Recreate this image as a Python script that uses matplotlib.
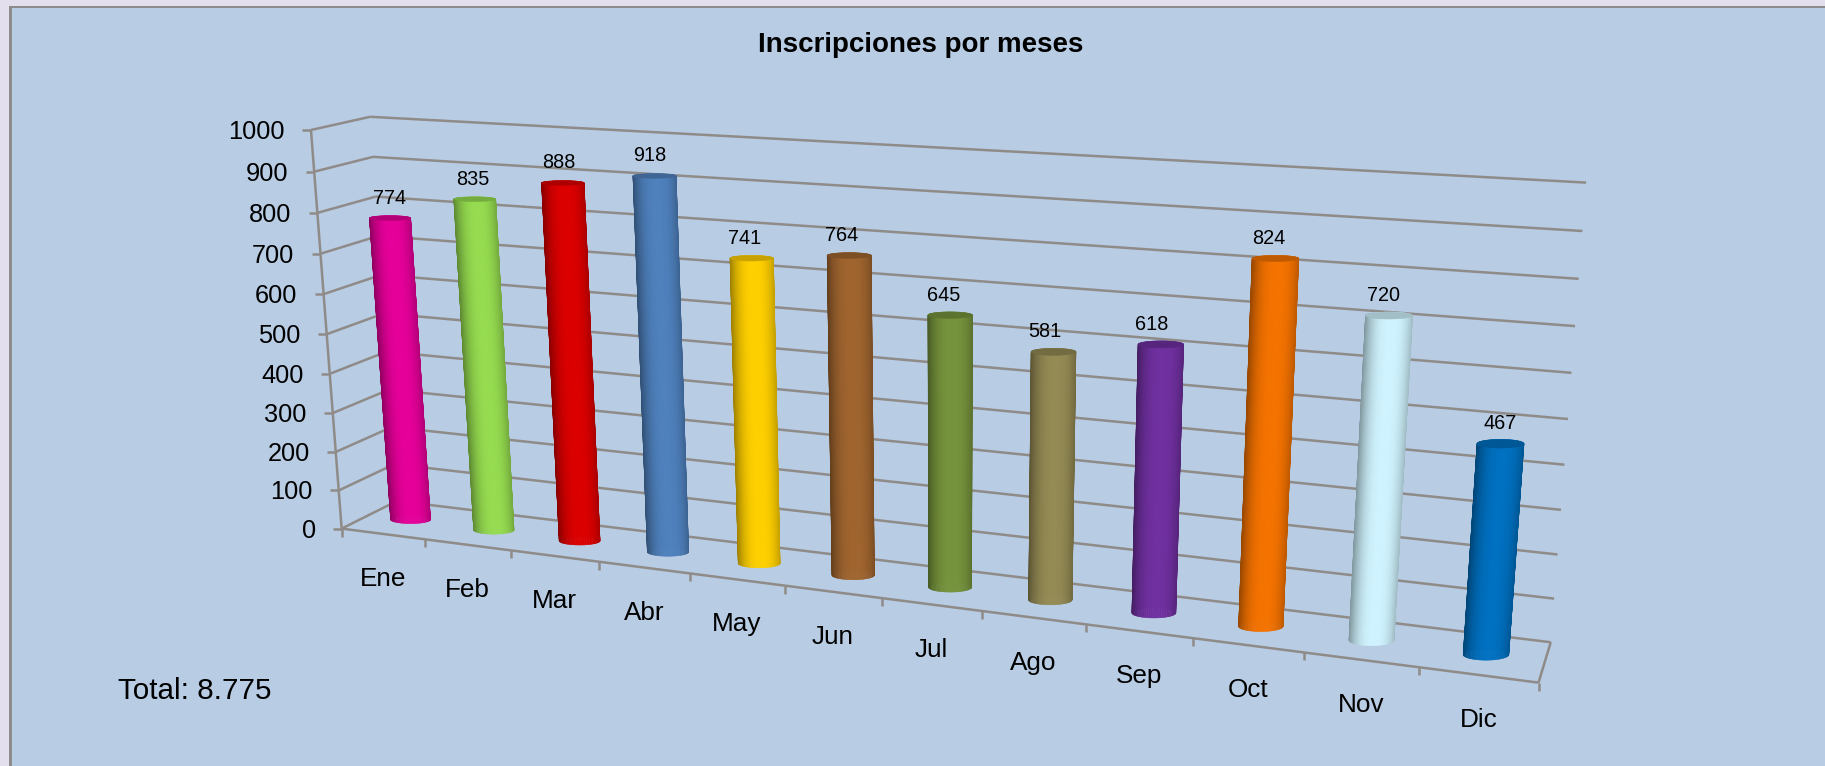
#---------------------------------------------------------------
#  Inscripciones por meses - cilindros 3D en perspectiva
#---------------------------------------------------------------
import numpy as np
import matplotlib
matplotlib.use("Agg")
import matplotlib.pyplot as plt
from matplotlib.colors import to_rgb
from matplotlib.patches import Rectangle

plt.rcParams['font.family'] = ['Liberation Sans', 'DejaVu Sans']

# datos
meses = ['Ene', 'Feb', 'Mar', 'Abr', 'May', 'Jun', 'Jul', 'Ago', 'Sep', 'Oct', 'Nov', 'Dic']
inscripciones = [774, 835, 888, 918, 741, 764, 645, 581, 618, 824, 720, 467]
colores = ['#E6009A', '#96DC50', '#DC0000', '#4F81BD', '#FFD000', '#A0652F',
           '#76933C', '#948A54', '#7030A0', '#F57300', '#D0F4FF', '#0070C0']
marcas_y = [0, 100, 200, 300, 400, 500, 600, 700, 800, 900, 1000]
titulo = 'Inscripciones por meses'
total = 'Total: 8.775'

GRIS = '#8f8b88'

# Excel no centra del todo las etiquetas sobre el cilindro (pixeles)
ajuste_etiquetas = [0, -2, -4, -5, -7, -8, -7, -9, -9, -7, -6, 0]

# calibracion de la camara: (mes, valor, fondo) -> pixel de la figura
puntos_3d = [(0, 0, 0), (0, 1000, 0), (0, 1000, 1), (0, 0, 1),
             (12, 1000, 1), (12, 0, 1), (12, 0, 0),
             (1, 0, 0), (2, 0, 0), (3, 0, 0), (10, 0, 0), (11, 0, 0),
             (12, 500, 1), (0, 500, 0)]
puntos_px = [(342, 528.3), (311.2, 130.7), (369.7, 118.3), (397, 500.3),
             (1586.4, 182.7), (1550.7, 641.7), (1537.9, 682.7),
             (425, 540), (510.7, 551.7), (599.3, 563.3), (1304.3, 653.3), (1419.4, 666.7),
             (1568.3, 418.5), (326.5, 330)]


def ajusta_camara(p3, p2):
    filas = []
    for (x, y, z), (u, v) in zip(p3, p2):
        X = [x, y / 1000.0, z, 1.0]
        u, v = u / 1000.0, v / 1000.0
        filas.append(X + [0, 0, 0, 0] + [-u * a for a in X])
        filas.append([0, 0, 0, 0] + X + [-v * a for a in X])
    _, _, vt = np.linalg.svd(np.array(filas))
    return vt[-1].reshape(3, 4)


P = ajusta_camara(puntos_3d, puntos_px)


def proy(x, y, z):
    h = P @ np.array([x, y / 1000.0, z, 1.0])
    return 1000.0 * h[0] / h[2], 1000.0 * h[1] / h[2]


fig = plt.figure(figsize=(18.25, 7.66), dpi=100, facecolor='#E4DFEC')
ax = fig.add_axes([0, 0, 1, 1])
ax.set_xlim(0, 1825)
ax.set_ylim(766, 0)
ax.axis('off')

# panel de fondo
ax.add_patch(Rectangle((9, 6), 1816, 760, fc='#8c8c8c', ec='none', zorder=0))
ax.add_patch(Rectangle((12, 8), 1813, 758, fc='#B8CCE4', ec='none', zorder=0))

n = len(meses)


def linea(p, q, lw=1.8):
    ax.plot([p[0], q[0]], [p[1], q[1]], color=GRIS, lw=lw, zorder=2, solid_capstyle='butt')


# rejilla: pared del fondo y pared lateral
for val in marcas_y:
    linea(proy(0, val, 1), proy(n, val, 1))
    linea(proy(0, val, 0), proy(0, val, 1))
    xt, yt = proy(0, val, 0)
    linea((xt - 8.5, yt), (xt, yt))
    ax.text(xt - 26, yt + 2, str(val), ha='right', va='center', fontsize=18.3, color='black')

# ejes
linea(proy(0, 0, 0), proy(0, 1000, 0))
linea(proy(0, 0, 0), proy(n, 0, 0))
linea(proy(n, 0, 0), proy(n, 0, 1))
for i in range(n + 1):
    xt, yt = proy(i, 0, 0)
    linea((xt, yt), (xt, yt + 8))

for i, mes in enumerate(meses):
    xt, yt = proy(i + 0.5, 0, 0)
    ax.text(xt, yt + 45, mes, ha='center', va='center', fontsize=18.8, color='black')

# cilindros: las tapas son elipses horizontales en pantalla, como en Excel
RZ = 0.14
ang = np.linspace(0, 2 * np.pi, 73)
medio = ang[:-1] + np.diff(ang) / 2
orden = np.argsort(np.sin(medio))

for i in range(n):
    val = inscripciones[i]
    base = np.array(to_rgb(colores[i]))
    rx = 0.243 - 0.0043 * i

    anillos = []
    for v in (0, val):
        cx, cy = proy(i + 0.5, v, 0.5)
        a = (proy(i + 0.5 + rx, v, 0.5)[0] - proy(i + 0.5 - rx, v, 0.5)[0]) / 2
        b = abs(proy(i + 0.5, v, 0.5 + RZ)[1] - proy(i + 0.5, v, 0.5 - RZ)[1]) / 2
        anillos.append((cx + a * np.cos(ang), cy + b * np.sin(ang)))
    (xb, yb), (xa, ya) = anillos

    for k in orden:
        luz = 1 - 0.30 * abs(np.cos(medio[k]) - 0.1) ** 2.5
        c = base * luz
        ax.fill([xb[k], xb[k + 1], xa[k + 1], xa[k]], [yb[k], yb[k + 1], ya[k + 1], ya[k]],
                fc=c, ec=c, lw=0.4, zorder=3)
    ax.fill(xa, ya, fc=base * 0.78, ec=base * 0.78, lw=0.4, zorder=4)

    xt, yt = proy(i + 0.5, val, 0.5)
    ax.text(xt + ajuste_etiquetas[i], yt - 20, str(val), ha='center', va='center',
            fontsize=14.3, color='black', zorder=5)

ax.text(921, 45, titulo, ha='center', va='center', fontsize=20, fontweight='bold', color='black')
ax.text(118.5, 691, total, ha='left', va='center', fontsize=21.3, color='black')

fig.savefig('out.png', dpi=100, facecolor=fig.get_facecolor())
